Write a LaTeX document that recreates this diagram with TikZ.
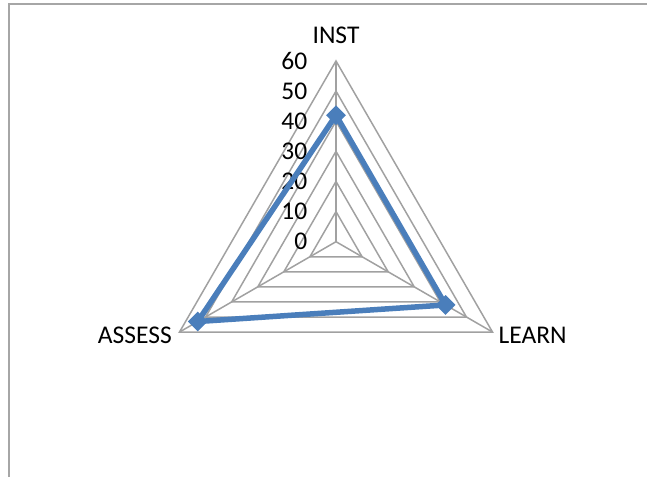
\documentclass[tikz,border=0pt]{standalone}
\usepackage{fontspec}
\setmainfont{Carlito}
\usetikzlibrary{shapes.geometric}
\definecolor{seriesblue}{RGB}{74,126,187}
\begin{document}
\begin{tikzpicture}[x=1pt,y=1pt,
  grid/.style={draw=black!37,line width=1.5pt},
  frame/.style={draw=black!35,line width=2pt},
  series/.style={draw=seriesblue,line width=5.5pt,line join=round},
  mk/.style={diamond,fill=seriesblue,inner sep=0pt,minimum size=20pt},
  lbl/.style={font=\fontsize{25.5}{30}\selectfont,inner sep=0pt}]
\useasboundingbox (-336,-235.3) rectangle (311,241.7);
\coordinate (corner) at (-326.5,237.7);
\coordinate (topend) at (311,237.7);
\coordinate (leftend) at (-326.5,-235.3);
\draw[frame] (leftend) -- (corner) -- (topend);
\coordinate (c) at (0,0);
\foreach \n/\a in {inst/90,learn/-30,assess/210}
  \coordinate (\n) at (\a:180.7);
\foreach \r in {1,...,6}
  \draw[grid] (90:\r*30.12) -- (-30:\r*30.12) -- (210:\r*30.12) -- cycle;
\foreach \n in {inst,learn,assess}
  \draw[grid] (c) -- (\n);
\foreach \v in {0,10,...,60}
  \node[lbl,anchor=east] (tick\v) at (-28.5,\v*3.012) {\v};
\node[lbl,anchor=base] (instlabel) at ([yshift=17.5pt]inst) {INST};
\node[lbl,anchor=base east] (assesslabel) at ([xshift=-7.5pt,yshift=-11.5pt]assess) {ASSESS};
\node[lbl,anchor=base west] (learnlabel) at ([xshift=6pt,yshift=-11.5pt]learn) {LEARN};
\foreach \n/\a/\v in {instpt/90/42,learnpt/-30/42,assesspt/210/53}
  \coordinate (\n) at (\a:\v*3.012);
\draw[series] (instpt) -- (learnpt) -- (assesspt) -- cycle;
\foreach \n in {instpt,learnpt,assesspt}
  \node[mk] (\n mk) at (\n) {};
\end{tikzpicture}
\end{document}
